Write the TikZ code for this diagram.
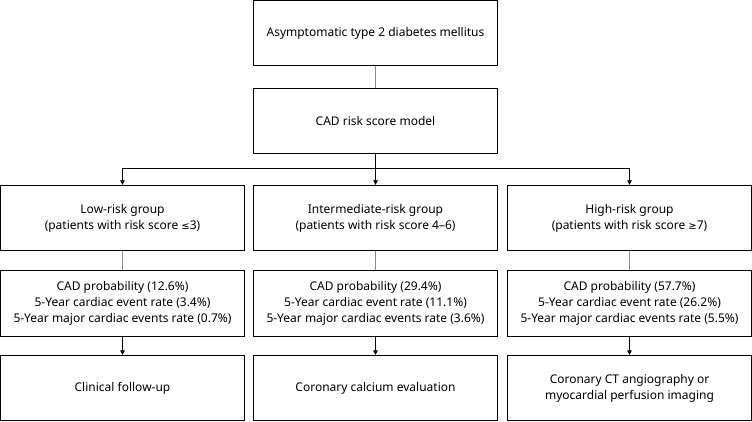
\documentclass[tikz,border=0pt]{standalone}
\usepackage{fontspec}
\setmainfont{Noto Sans}
\newfontfamily\symfont{DejaVu Sans}
\usepackage{tikz}
\usetikzlibrary{positioning,arrows.meta}
\usepackage{xcolor}

\begin{document}
\begin{tikzpicture}[x=1pt,y=-1pt,>={Triangle[length=4.5pt,width=4.5pt]},
  box/.style={draw,line width=0.7pt,minimum width=244pt,minimum height=65.5pt,align=center,inner sep=2pt,font=\fontsize{12}{15.8}\selectfont},
  link/.style={draw=black!45,line width=0.7pt},
  arr/.style={->,line width=0.7pt}]
\useasboundingbox (0,0) rectangle (752,422);
\node[box] (dm) at (375.5,33) {Asymptomatic type 2 diabetes mellitus};
\node[box] (model) at (375.5,121) {CAD risk score model};
\node[box] (low) at (122.5,218) {Low-risk group\\(patients with risk score {\symfont\fontsize{10}{12}\selectfont≤}3)};
\node[box] (mid) at (375.5,218) {Intermediate-risk group\\(patients with risk score 4--6)};
\node[box] (high) at (629.5,218) {High-risk group\\(patients with risk score {\symfont\fontsize{10}{12}\selectfont≥}7)};
\node[box] (lowp) at (122.5,303.5) {CAD probability (12.6\%)\\5-Year cardiac event rate (3.4\%)\\5-Year major cardiac events rate (0.7\%)};
\node[box] (midp) at (375.5,303.5) {CAD probability (29.4\%)\\5-Year cardiac event rate (11.1\%)\\5-Year major cardiac events rate (3.6\%)};
\node[box] (highp) at (629.5,303.5) {CAD probability (57.7\%)\\5-Year cardiac event rate (26.2\%)\\5-Year major cardiac events rate (5.5\%)};
\node[box] (lowa) at (122.5,388) {Clinical follow-up};
\node[box] (mida) at (375.5,388) {Coronary calcium evaluation};
\node[box] (higha) at (629.5,388) {Coronary CT angiography or\\myocardial perfusion imaging};
\draw[link] (dm) -- (model);
\draw[arr] (model) -- (mid);
\draw[arr] (model.south) -- ++(0,14) -| (low.north);
\draw[arr] (model.south) -- ++(0,14) -| (high.north);
\foreach \g in {low,mid,high} {
  \draw[link] (\g) -- (\g p);
  \draw[arr] (\g p) -- (\g a);
}
\end{tikzpicture}
\end{document}
